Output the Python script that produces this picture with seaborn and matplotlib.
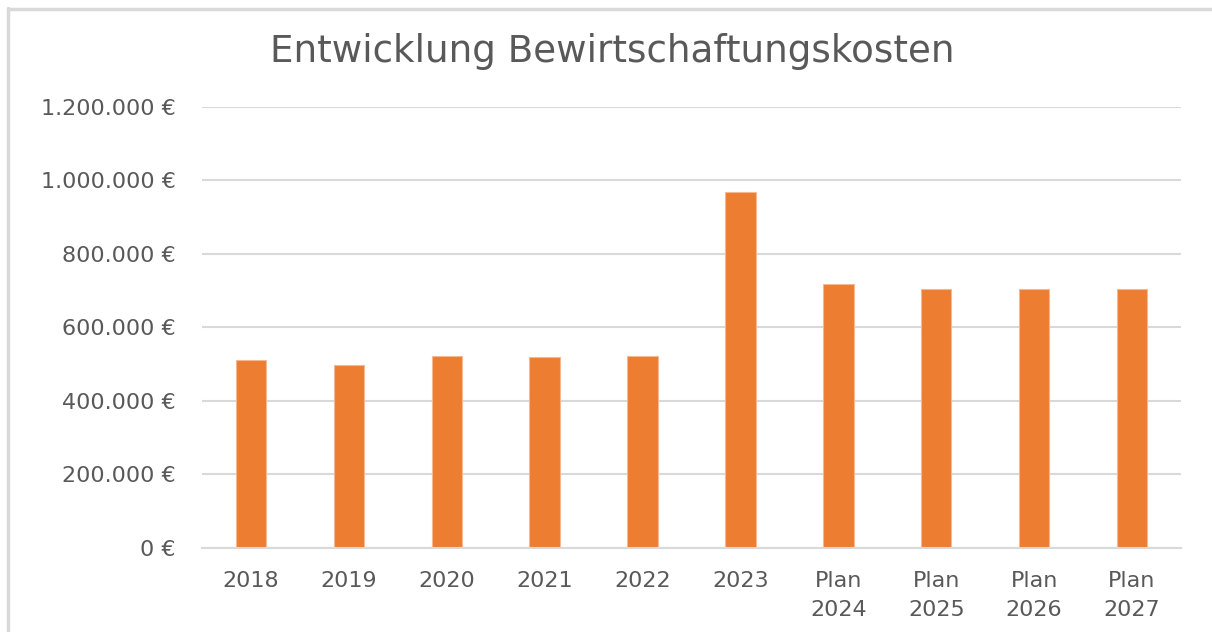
import matplotlib
matplotlib.use("Agg")
import matplotlib.pyplot as plt
import seaborn as sns
import pandas as pd
from matplotlib.ticker import FuncFormatter, MultipleLocator
from matplotlib.lines import Line2D

categories = ["2018", "2019", "2020", "2021", "2022", "2023",
              "Plan\n2024", "Plan\n2025", "Plan\n2026", "Plan\n2027"]
values = [512000, 496000, 523000, 520000, 523000, 968000,
          719000, 705000, 705000, 705000]
title = "Entwicklung Bewirtschaftungskosten"

sns.set_theme(style="white")
plt.rcParams["font.family"] = ["DejaVu Sans"]

text_color = "#595959"
grid_color = "#D9D9D9"
bar_color = "#ED7D31"

fig = plt.figure(figsize=(12.12, 6.32), dpi=100)
ax = fig.add_axes([202/1212, 1 - 547.5/632, (1181-202)/1212, (547.5-107)/632])

df = pd.DataFrame({"cat": categories, "val": values})
sns.barplot(data=df, x="cat", y="val", color=bar_color, saturation=1,
            width=0.31, ax=ax, edgecolor="#F6B892", linewidth=0.8)

ax.set_xlim(-0.5, len(categories) - 0.5)
ax.set_ylim(0, 1200000)
ax.yaxis.set_major_locator(MultipleLocator(200000))

def fmt(v, pos):
    s = f"{int(round(v)):,}".replace(",", ".")
    return f"{s} €"

ax.yaxis.set_major_formatter(FuncFormatter(fmt))
ax.set_axisbelow(True)
ax.yaxis.grid(True, color=grid_color, linewidth=1.5)
ax.xaxis.grid(False)
for s in ["top", "right", "left"]:
    ax.spines[s].set_visible(False)
ax.spines["bottom"].set_color(grid_color)
ax.spines["bottom"].set_linewidth(1.5)
ax.set_xlabel("")
ax.set_ylabel("")
ax.tick_params(axis="y", length=0, pad=19, labelsize=16, labelcolor=text_color)
ax.tick_params(axis="x", length=0, pad=17, labelsize=16, labelcolor=text_color)
for lbl in ax.get_xticklabels():
    lbl.set_linespacing(1.55)

fig.text(612/1212, 1 - 52/632, title, ha="center", va="center",
         fontsize=26.8, color=text_color)

# chart border (left and top)
fig.add_artist(Line2D([8/1212, 8/1212], [0, 1 - 8/632], transform=fig.transFigure,
                      color=grid_color, linewidth=2.5))
fig.add_artist(Line2D([8/1212, 1], [1 - 9/632, 1 - 9/632], transform=fig.transFigure,
                      color=grid_color, linewidth=2.5))

fig.savefig("out.png", dpi=100, facecolor="white")
